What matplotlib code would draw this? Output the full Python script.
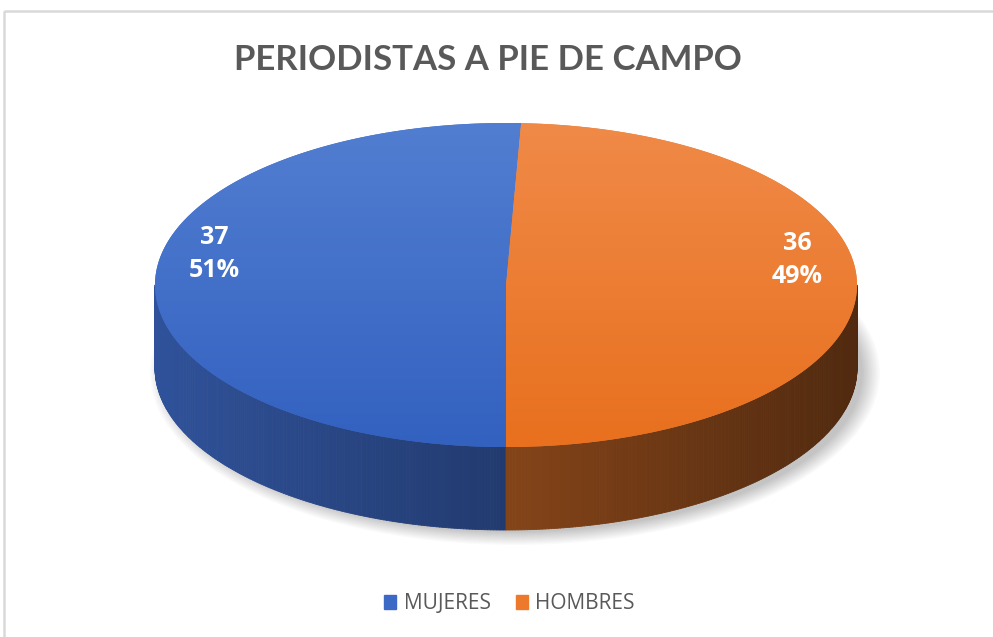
import numpy as np
import matplotlib.pyplot as plt
from matplotlib.patches import Polygon, Patch, Ellipse, Rectangle
from matplotlib.collections import PolyCollection
from matplotlib.colors import to_rgb

# datos
categories = ['MUJERES', 'HOMBRES']
values = [37, 36]
colors = ['#3d69c6', '#ed7a2c']
top_light = ['#527ed1', '#f08a48']
top_dark = ['#3361c0', '#e8701e']
title = 'PERIODISTAS A PIE DE CAMPO'

fig = plt.figure(figsize=(9.93, 6.37), dpi=100)
ax = fig.add_axes([0, 0, 1, 1])
ax.set_xlim(0, 993)
ax.set_ylim(637, 0)
ax.axis('off')

# marco gris
ax.add_patch(Rectangle((4, 11), 1100, 700, fill=False, ec='#d9d9d9', lw=1.8))

# geometria del pastel 3D (elipse en pixeles)
cx, cy, a, b, depth = 506, 285, 351, 162, 83


def pt(t, dy=0):
    r = np.radians(t)
    return cx + a * np.cos(r), cy - b * np.sin(r) + dy


# sombra difusa
for i in range(12):
    ax.add_patch(Ellipse((cx + 9, cy + depth + 5), 2 * (a + 14 - 1.6 * i),
                         2 * (b + 10 - 1.2 * i), color='k', alpha=0.02, lw=0, zorder=1))

total = sum(values)
bounds = [270]
for v in values:
    bounds.append(bounds[-1] - v / total * 360)


def shade(t):
    return 0.56 - 0.22 * np.cos(np.radians(t))


for i, v in enumerate(values):
    hi, lo = bounds[i], bounds[i + 1]
    base = np.array(to_rgb(colors[i]))
    # pared lateral (parte frontal)
    quads, qcols = [], []
    for k in (-1, 0, 1):
        f0, f1 = max(lo, 180 + 360 * k), min(hi, 360 + 360 * k)
        if f1 <= f0:
            continue
        ts = np.linspace(f0, f1, int((f1 - f0) * 2) + 2)
        for t0, t1 in zip(ts[:-1], ts[1:]):
            x0, y0 = pt(t0)
            x1, y1 = pt(t1)
            quads.append([(x0, y0), (x1, y1), (x1, y1 + depth), (x0, y0 + depth)])
            qcols.append(np.clip(base * shade((t0 + t1) / 2), 0, 1))
    if quads:
        ax.add_collection(PolyCollection(quads, facecolors=qcols, edgecolors=qcols,
                                         lw=0.6, zorder=2))

    # cara superior con degradado
    ts = np.linspace(lo, hi, 300)
    verts = [(cx, cy)] + [pt(t) for t in ts]
    poly = Polygon(verts, closed=True, fc=colors[i], ec='none', zorder=3)
    ax.add_patch(poly)
    c0 = np.array(to_rgb(top_light[i]))
    c1 = np.array(to_rgb(top_dark[i]))
    g = np.linspace(0, 1, 200)[:, None, None]
    img = c0 * (1 - g) + c1 * g
    im = ax.imshow(img, extent=(cx - a, cx + a, cy + b, cy - b), aspect='auto',
                   zorder=4, interpolation='bilinear')
    im.set_clip_path(poly)

    # etiqueta
    mid = (hi + lo) / 2
    lx, ly = pt(mid)
    lx = cx + 0.83 * (lx - cx)
    ly = cy + 0.83 * (ly - cy) - 28
    ax.text(lx, ly, f'{v}\n{v / total * 100:.0f}%', color='white', fontsize=18,
            weight='bold', family='Open Sans', ha='center', va='center',
            linespacing=1.45, zorder=6)

ax.set_xlim(0, 993)
ax.set_ylim(637, 0)

ax.text(488, 60, title, fontsize=25, weight='bold', color='#595959',
        family='Lato', ha='center', va='center')

handles = [Patch(color=c, label=l) for c, l in zip(colors, categories)]
ax.legend(handles=handles, loc='center', bbox_to_anchor=(0.513, 0.052), ncol=2,
          frameon=False, prop={'family': 'Open Sans', 'size': 15}, labelcolor='#595959',
          handlelength=0.6, handleheight=0.6, handletextpad=0.35, columnspacing=1.2)

fig.savefig('out.png', dpi=100)
